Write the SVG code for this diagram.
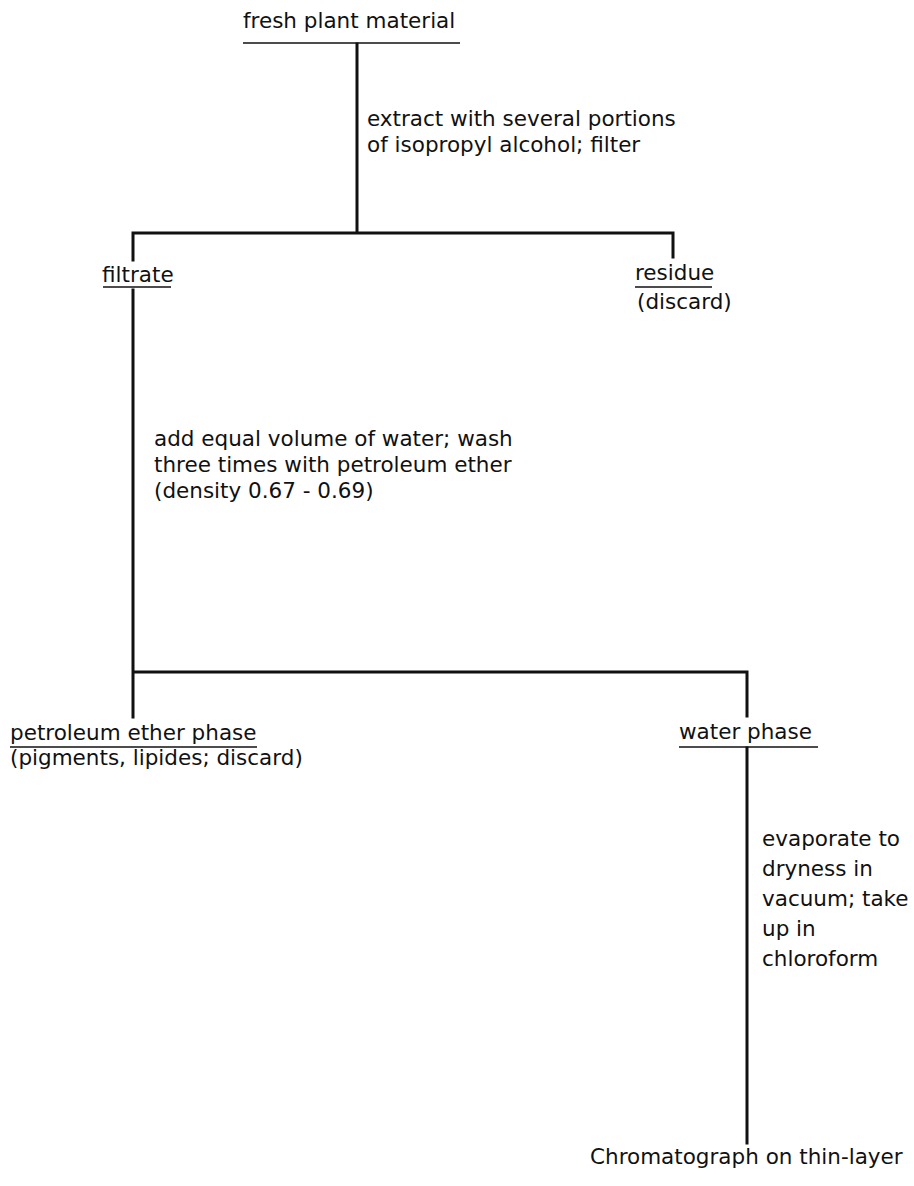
<svg xmlns="http://www.w3.org/2000/svg" width="914" height="1186" viewBox="0 0 914 1186">
<style>
text{font-family:"DejaVu Sans","Liberation Sans",sans-serif;font-size:21.5px;fill:#111}
.ln{stroke:#111;stroke-width:3;fill:none;stroke-linecap:square}
.ul{stroke:#111;stroke-width:1.5;fill:none}
</style>
<rect width="914" height="1186" fill="#fff"/>
<g id="connectors">
<path class="ln" d="M357 44V233M133 233H673M133 233V260M673 233V257"/>
<path class="ln" d="M133 290V717M133 672H747V716"/>
<path class="ln" d="M747 748V1143"/>
</g>
<g id="n-fresh"><text x="243" y="28">fresh plant material</text><path class="ul" d="M243 43H460"/></g>
<g id="e-extract"><text x="367" y="126">extract with several portions</text><text x="367" y="152">of isopropyl alcohol; filter</text></g>
<g id="n-filtrate"><text x="102" y="282">filtrate</text><path class="ul" d="M103 287H171"/></g>
<g id="n-residue"><text x="635" y="280">residue</text><path class="ul" d="M635 287H712"/><text x="637" y="309">(discard)</text></g>
<g id="e-wash"><text x="154" y="446">add equal volume of water; wash</text><text x="154" y="472">three times with petroleum ether</text><text x="154" y="498">(density 0.67 - 0.69)</text></g>
<g id="n-pet"><text x="10" y="740">petroleum ether phase</text><path class="ul" d="M10 747H257"/><text x="10" y="765">(pigments, lipides; discard)</text></g>
<g id="n-water"><text x="679" y="739">water phase</text><path class="ul" d="M679 747H818"/></g>
<g id="e-evap"><text x="762" y="846">evaporate to</text><text x="762" y="876">dryness in</text><text x="762" y="906">vacuum; take</text><text x="762" y="936">up in</text><text x="762" y="966">chloroform</text></g>
<g id="n-chrom"><text x="590" y="1164">Chromatograph on thin-layer</text></g>
</svg>
